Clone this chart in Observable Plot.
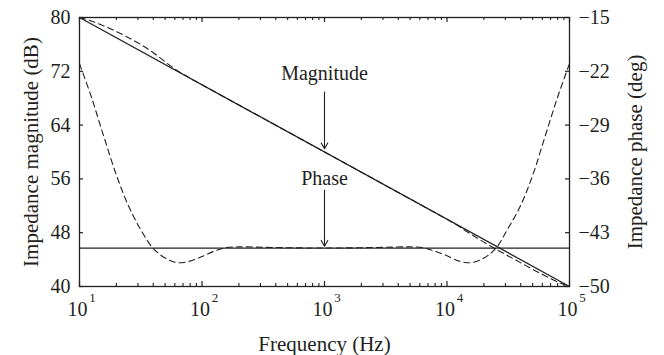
<!DOCTYPE html>
<html><head><meta charset="utf-8">
<script src="https://cdn.jsdelivr.net/npm/d3@7"></script>
<script src="https://cdn.jsdelivr.net/npm/@observablehq/plot@0.6"></script>
<style>
html,body{margin:0;padding:0;background:#fff}
#chart svg{display:block}
</style>
</head><body><div id="chart"></div>
<script>
// ---- data ----
const freqHz = [10, 12.6, 15.8, 20, 25.1, 31.6, 39.8, 50.1, 63.1, 79.4, 100, 126, 158, 200, 316, 1000, 3160, 5010, 6310, 7940, 10000, 12600, 15800, 20000, 25100, 31600, 39800, 50100, 63100, 79400, 100000];
const magDashedDb = [80, 79.45, 78.75, 77.9, 77.0, 76.0, 74.8, 73.4, 72.1, 71.0, 70.0, 69.0, 68.0, 67.0, 65.0, 60.0, 55.0, 53.0, 52.0, 51.0, 49.98, 48.9, 47.75, 46.6, 45.55, 44.55, 43.55, 42.55, 41.6, 40.7, 40];
const phaseDashedDeg = [-21, -25.5, -30.5, -35.5, -39.5, -42.6, -45.0, -46.3, -46.9, -46.7, -46.1, -45.4, -44.95, -44.85, -44.9, -45.0, -44.9, -44.85, -44.95, -45.4, -46.0, -46.7, -46.9, -46.3, -45.0, -42.4, -39.5, -35.5, -30.5, -25.5, -21];
const magLineFreq = [10, 100000];
const magLineDb = [80, 40];
const phaseLineFreq = [10, 100000];
const phaseLineDeg = [-45, -45];

const xTicks = [10, 100, 1000, 10000, 100000];
const xTickExp = ["1", "2", "3", "4", "5"];
const minorMult = [2, 3, 4, 5, 6, 7, 8, 9];
const magTicks = [40, 48, 56, 64, 72, 80];
const phaseTicks = [-50, -43, -36, -29, -22, -15];

const magDomain = [40, 80];
const phaseDomain = [-50, -15];

const xTitle = "Frequency (Hz)";
const yTitle = "Impedance magnitude (dB)";
const y2Title = "Impedance phase (deg)";
const annMagText = "Magnitude";
const annPhaseText = "Phase";
const annFreq = 1000;

// ---- layout ----
const W = 664, H = 355;
const mTop = 17, mRight = 95, mBottom = 69, mLeft = 79;
const plotW = W - mLeft - mRight, plotH = H - mTop - mBottom;
const ink = "#231f20";
const font = "'Liberation Serif', 'Times New Roman', serif";

// secondary axis mapping (phase -> magnitude units)
const phaseToDb = p => magDomain[0] + (p - phaseDomain[0]) * (magDomain[1] - magDomain[0]) / (phaseDomain[1] - phaseDomain[0]);

const dashed = freqHz.map((f, i) => ({f, mag: magDashedDb[i], ph: phaseToDb(phaseDashedDeg[i])}));
const magLine = magLineFreq.map((f, i) => ({f, v: magLineDb[i]}));
const phLine = phaseLineFreq.map((f, i) => ({f, v: phaseToDb(phaseLineDeg[i])}));
const minorTicks = xTicks.slice(0, -1).flatMap(t => minorMult.map(m => t * m));
const xTickData = xTicks.map((t, i) => ({t, e: xTickExp[i]}));
const yTickData = magTicks.map((t, i) => ({t, p: phaseTicks[i]}));

const majorLen = 5, minorLen = 3, yTickLen = 4;
const txt = {fill: ink, lineAnchor: "middle"};

const chart = Plot.plot({
  width: W, height: H,
  marginTop: mTop, marginRight: mRight, marginBottom: mBottom, marginLeft: mLeft,
  style: {fontFamily: font, fontSize: "20px", color: ink, background: "#fff"},
  x: {type: "log", domain: [xTicks[0], xTicks[xTicks.length - 1]], axis: null},
  y: {domain: magDomain, axis: null},
  marks: [
    // curves
    Plot.line(magLine, {x: "f", y: "v", stroke: ink, strokeWidth: 1.3}),
    Plot.line(phLine, {x: "f", y: "v", stroke: ink, strokeWidth: 1.2}),
    Plot.line(dashed, {x: "f", y: "mag", stroke: ink, strokeWidth: 1.1, strokeDasharray: "6,4", curve: "catmull-rom"}),
    Plot.line(dashed, {x: "f", y: "ph", stroke: ink, strokeWidth: 1.1, strokeDasharray: "6,4", curve: "catmull-rom"}),
    // inward ticks bottom/top
    Plot.tickX(xTicks, {x: d => d, stroke: ink, strokeWidth: 1.2, insetTop: plotH - majorLen}),
    Plot.tickX(xTicks, {x: d => d, stroke: ink, strokeWidth: 1.2, insetBottom: plotH - majorLen}),
    Plot.tickX(minorTicks, {x: d => d, stroke: ink, strokeWidth: 1.1, insetTop: plotH - minorLen}),
    Plot.tickX(minorTicks, {x: d => d, stroke: ink, strokeWidth: 1.1, insetBottom: plotH - minorLen}),
    // inward ticks left/right
    Plot.tickY(magTicks, {y: d => d, stroke: ink, strokeWidth: 1.2, insetRight: plotW - yTickLen}),
    Plot.tickY(magTicks, {y: d => d, stroke: ink, strokeWidth: 1.2, insetLeft: plotW - yTickLen}),
    Plot.frame({stroke: ink, strokeWidth: 1.3}),
    // x tick labels 10^n
    Plot.text(xTickData, {...txt, x: "t", text: () => "10", frameAnchor: "bottom", textAnchor: "middle", dy: 23, dx: -2, fontSize: 20}),
    Plot.text(xTickData, {...txt, x: "t", text: "e", frameAnchor: "bottom", textAnchor: "middle", dy: 11, dx: 13, fontSize: 13}),
    // y tick labels
    Plot.text(yTickData, {...txt, y: "t", text: d => String(d.t), frameAnchor: "left", dx: -9, textAnchor: "end", fontSize: 20}),
    Plot.text(yTickData, {...txt, y: "t", text: d => String(d.p).replace("-", "\u2212"), frameAnchor: "right", dx: 9, textAnchor: "start", fontSize: 20}),
    // titles
    Plot.text([xTitle], {...txt, text: d => d, frameAnchor: "bottom", textAnchor: "middle", dy: 58, fontSize: 21}),
    Plot.text([yTitle], {...txt, text: d => d, frameAnchor: "left", textAnchor: "middle", rotate: -90, dx: -48, fontSize: 21}),
    Plot.text([y2Title], {...txt, text: d => d, frameAnchor: "right", textAnchor: "middle", rotate: -90, dx: 66, fontSize: 21}),
    // annotations
    Plot.text([annMagText], {...txt, x: () => annFreq, y: () => 71.7, text: d => d, fontSize: 20}),
    Plot.arrow([0], {x1: () => annFreq, x2: () => annFreq, y1: () => 68.9, y2: () => 60.5, stroke: ink, strokeWidth: 1.1, headLength: 9}),
    Plot.text([annPhaseText], {...txt, x: () => annFreq, y: () => 56.1, text: d => d, fontSize: 20}),
    Plot.arrow([0], {x1: () => annFreq, x2: () => annFreq, y1: () => 54.3, y2: () => 46.0, stroke: ink, strokeWidth: 1.1, headLength: 9})
  ]
});
document.getElementById("chart").appendChild(chart);
</script>
</body></html>
